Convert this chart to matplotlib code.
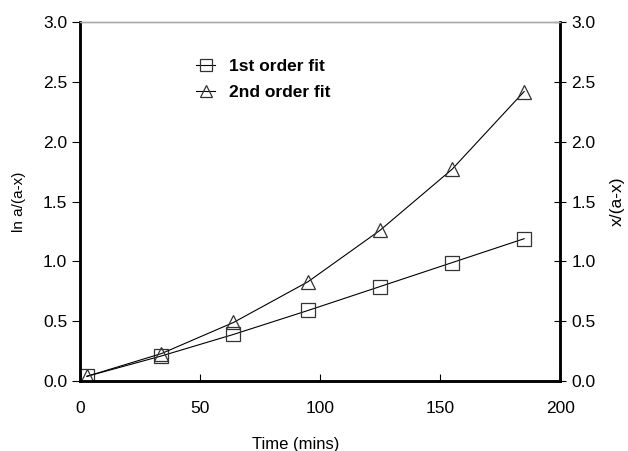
import numpy as np
import matplotlib.pyplot as plt

plt.rcParams['font.family'] = ['Liberation Sans', 'DejaVu Sans']

# reaction times and the two linearised quantities
time_min = [3, 34, 64, 95, 125, 155, 185]
first_order = [0.04, 0.21, 0.39, 0.59, 0.79, 0.99, 1.19]
second_order = [0.04, 0.23, 0.49, 0.83, 1.26, 1.77, 2.42]

fig = plt.figure(figsize=(6.28, 4.51), dpi=100)
ax = fig.add_axes([0.127, 0.155, 0.765, 0.796])
ax2 = ax.twinx()

ax.plot(time_min, first_order, color='black', lw=0.8, marker='s', ms=10,
        mfc='none', mec='#333333', mew=0.9, label='1st order fit')
ax.plot(time_min, second_order, color='black', lw=0.8, marker='^', ms=10,
        mfc='none', mec='#333333', mew=0.9, label='2nd order fit')

ax.set_xlim(0, 200)
ax.set_ylim(0, 3.0)
ax2.set_ylim(0, 3.0)
ax.set_xticks([0, 50, 100, 150, 200])
ticks = np.arange(0, 3.01, 0.5)
ax.set_yticks(ticks)
ax2.set_yticks(ticks)
ax.set_yticklabels([f'{v:.1f}' for v in ticks])
ax2.set_yticklabels([f'{v:.1f}' for v in ticks])

ax.tick_params(axis='y', direction='out', length=6, width=0.8, labelsize=12.5, pad=3)
ax.tick_params(axis='x', direction='in', length=5, width=0.8, labelsize=12.5, pad=14)
ax2.tick_params(axis='y', direction='inout', length=8, width=0.8, labelsize=12.5, pad=4)

for a in (ax, ax2):
    for side in ('left', 'bottom', 'right'):
        a.spines[side].set_linewidth(1.8)
    a.spines['top'].set_color('#aaaaaa')
    a.spines['top'].set_linewidth(1.0)

ax.set_xlabel('Time (mins)', fontsize=12, labelpad=12)
ax.xaxis.set_label_coords(0.45, -0.155)
ax.set_ylabel('ln a/(a-x)', fontsize=11, labelpad=12)
ax2.set_ylabel('x/(a-x)', fontsize=12.5, labelpad=10)

ax.legend(loc='upper left', bbox_to_anchor=(0.21, 0.94), frameon=False,
          prop={'weight': 'bold', 'size': 12.5}, handlelength=1.1,
          handletextpad=0.8, labelspacing=0.6, markerscale=0.85)

fig.savefig('out.png', dpi=100)
